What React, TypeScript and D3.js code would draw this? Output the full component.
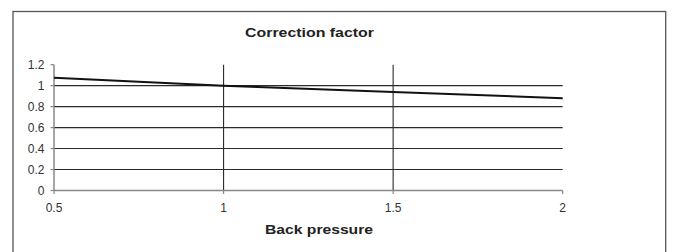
import React from 'react'
import * as d3 from 'd3'

const backPressure = [0.5, 1, 1.5, 2]
const correction = [1.075, 1.0, 0.94, 0.88]
const xTicks = [0.5, 1, 1.5, 2]
const yTicks = [0, 0.2, 0.4, 0.6, 0.8, 1, 1.2]
const xGrid = [1, 1.5]
const yGrid = [0.2, 0.4, 0.6, 0.8, 1]

const W = 674
const H = 252
const font = '"Liberation Sans", Arial, sans-serif'

export default function App() {
  const x = d3.scaleLinear().domain([0.5, 2]).range([54, 562.7])
  const y = d3.scaleLinear().domain([0, 1.2]).range([190.5, 64.7])

  const line = d3
    .line<number>()
    .x((d, i) => x(backPressure[i]))
    .y((d) => y(d))

  const fmt = (v: number) => String(+v.toFixed(1))

  return (
    <svg
      width={W}
      height={H}
      style={{ position: 'absolute', left: 0, top: 0, background: '#fff' }}
      fontFamily={font}
    >
      <rect x={13} y={11.5} width={652.7} height={260} fill="#fff" stroke="#555" strokeWidth={1.3} />

      <text
        x={309.5}
        y={36.8}
        textAnchor="middle"
        fontSize={13.5}
        fontWeight="bold"
        fill="#222"
        textLength={129}
        lengthAdjust="spacingAndGlyphs"
      >
        Correction factor
      </text>

      {/* grid */}
      {yGrid.map((v) => (
        <line key={'gy' + v} x1={x(0.5)} x2={x(2)} y1={y(v)} y2={y(v)} stroke="#2a2a2a" strokeWidth={1.1} />
      ))}
      {xGrid.map((v) => (
        <line key={'gx' + v} x1={x(v)} x2={x(v)} y1={y(1.2)} y2={y(0)} stroke="#2a2a2a" strokeWidth={1.1} />
      ))}

      {/* axes */}
      <line x1={x(0.5)} x2={x(0.5)} y1={y(1.2)} y2={y(0)} stroke="#888" strokeWidth={1.5} />
      <line x1={x(0.5)} x2={x(2)} y1={y(0)} y2={y(0)} stroke="#888" strokeWidth={1.5} />
      {yTicks.map((v) => (
        <g key={'ty' + v}>
          <line x1={x(0.5) - 3.5} x2={x(0.5)} y1={y(v)} y2={y(v)} stroke="#888" strokeWidth={1.2} />
          <text x={44.5} y={y(v)} dy="0.36em" textAnchor="end" fontSize={12} fill="#333">
            {fmt(v)}
          </text>
        </g>
      ))}
      {xTicks.map((v) => (
        <g key={'tx' + v}>
          <line x1={x(v)} x2={x(v)} y1={y(0)} y2={y(0) + 3.5} stroke="#888" strokeWidth={1.2} />
          <text x={x(v)} y={211.5} textAnchor="middle" fontSize={12} fill="#333">
            {fmt(v)}
          </text>
        </g>
      ))}

      <path d={line(correction) ?? ''} fill="none" stroke="#111" strokeWidth={2} />

      <text
        x={319}
        y={234.3}
        textAnchor="middle"
        fontSize={13.5}
        fontWeight="bold"
        fill="#222"
        textLength={108}
        lengthAdjust="spacingAndGlyphs"
      >
        Back pressure
      </text>
    </svg>
  )
}
